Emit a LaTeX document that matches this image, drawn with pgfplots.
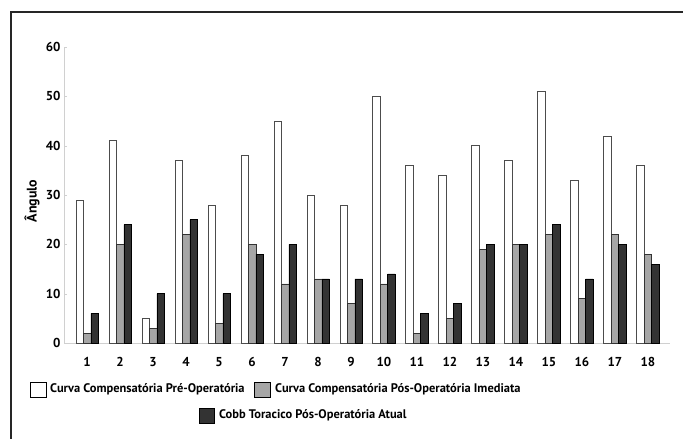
\documentclass[border=0pt]{standalone}
\usepackage{pgfplots}
\pgfplotsset{compat=1.18}
\usepackage{fontspec}
\setmainfont{PT Sans}
\definecolor{gbar}{HTML}{A6A6A6}
\definecolor{dbar}{HTML}{333333}
\definecolor{axgray}{HTML}{D0D0D0}
\begin{document}
\begin{tikzpicture}[x=1bp,y=1bp]
\useasboundingbox (0,0) rectangle (683,439);
\draw[line width=1.3bp,black!85] (11,0) -- (11,427) -- (683,427);
\begin{axis}[
  at={(64bp,96bp)}, anchor=origin,
  scale only axis, width=606bp, height=296bp,
  ybar=0pt, bar width=7.5bp,
  xmin=0.3, xmax=18.67, ymin=0, ymax=60,
  xtick={1,...,18}, ytick={0,10,...,60},
  axis y line*=left, axis x line*=bottom,
  axis line style={axgray},
  tick style={axgray},
  major tick length=3bp,
  xtick style={draw=none},
  extra x ticks={1.5,2.5,...,17.5},
  extra x tick labels={},
  extra x tick style={tick style={axgray}, major tick length=4bp, tick pos=bottom},
  tick label style={font=\bfseries\fontsize{13}{15}\selectfont},
  xticklabel style={yshift=-8bp},
  /pgf/number format/assume math mode=true,
  ylabel={\fontsize{14}{16}\selectfont\bfseries Ângulo},
  ylabel style={at={(axis description cs:0,0.48)}, anchor=center, yshift=32bp},
  clip=false,
]
\addplot[draw=black!70, fill=white, line width=0.5bp] coordinates {
(1,29) (2,41) (3,5) (4,37) (5,28) (6,38) (7,45) (8,30) (9,28) (10,50) (11,36) (12,34) (13,40) (14,37) (15,51) (16,33) (17,42) (18,36)};
\addplot[draw=black!80, fill=gbar, line width=0.5bp] coordinates {
(1,2) (2,20) (3,3) (4,22) (5,4) (6,20) (7,12) (8,13) (9,8) (10,12) (11,2) (12,5) (13,19) (14,20) (15,22) (16,9) (17,22) (18,18)};
\addplot[draw=black, fill=dbar, line width=0.5bp] coordinates {
(1,6) (2,24) (3,10) (4,25) (5,10) (6,18) (7,20) (8,13) (9,13) (10,14) (11,6) (12,8) (13,20) (14,20) (15,24) (16,13) (17,20) (18,16)};
\end{axis}
\begin{scope}[font=\bfseries\fontsize{12.5}{14}\selectfont]
\draw[black, line width=0.6bp, fill=white] (30,42) rectangle (46,57);
\node[anchor=west, inner sep=0pt] at (50,49.5) {Curva Compensatória Pré-Operatória};
\draw[black, line width=0.6bp, fill=gbar] (254,42) rectangle (270,57);
\node[anchor=west, inner sep=0pt] at (275,49.5) {Curva Compensatória Pós-Operatória Imediata};
\draw[black, line width=0.6bp, fill=dbar] (199,16) rectangle (214,31);
\node[anchor=west, inner sep=0pt] at (219,23.5) {Cobb Toracico Pós-Operatória Atual};
\end{scope}
\end{tikzpicture}
\end{document}
